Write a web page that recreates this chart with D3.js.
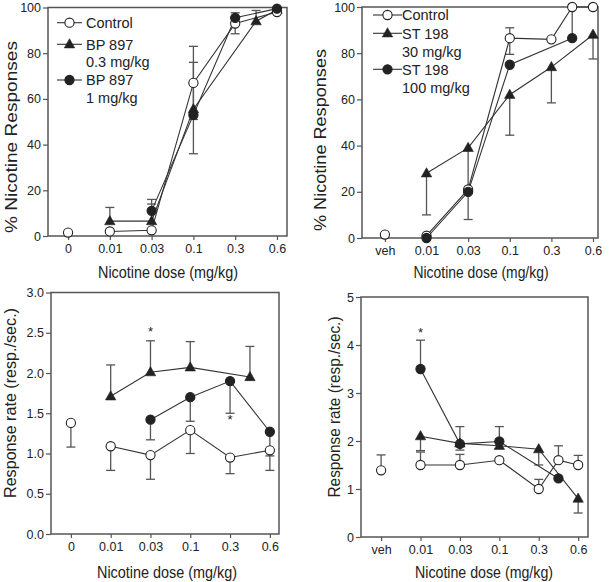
<!DOCTYPE html>
<html><head><meta charset="utf-8">
<script src="https://cdn.jsdelivr.net/npm/d3@7"></script>
<style>
body{margin:0;background:#fff}
svg{display:block}
text{font-family:"Liberation Sans",Arial,Helvetica,sans-serif;fill:#222}
</style>
</head><body>
<svg id="chart" width="610" height="582"></svg>
<script>
// ---------------- DATA ----------------
const doseLabelsA = ["0", "0.01", "0.03", "0.1", "0.3", "0.6"];
const doseLabelsB = ["veh", "0.01", "0.03", "0.1", "0.3", "0.6"];
const xTitle = "Nicotine dose (mg/kg)";
const yTitleTop = "% Nicotine Responses";
const yTitleBottom = "Response rate (resp./sec.)";
const ticksPct = [0, 20, 40, 60, 80, 100];
const ticksRateC = [0, 0.5, 1.0, 1.5, 2.0, 2.5, 3.0];
const ticksRateD = [0, 1, 2, 3, 4, 5];

// Panel A – BP 897, % nicotine responses (dose index; 4.5 = plotted between 0.3 and 0.6)
const legendA = ["Control", "BP 897", "BP 897"];
const legendSubA = [null, "0.3 mg/kg", "1 mg/kg"];
const ctrlA_x = [0, 1, 2, 3, 4, 5];
const ctrlA_y = [1.5, 2, 2.5, 67, 93, 98];
const ctrlA_lo = [null, null, null, 51, 88.5, null];
const ctrlA_hi = [null, null, null, 83, 97.7, null];
const bpLowA_x = [1, 2, 3, 4.5, 5];
const bpLowA_y = [6.5, 6.5, 55.5, 94, 99];
const bpLowA_lo = [null, null, 36, null, null];
const bpLowA_hi = [12.5, 14, 76, 98.7, null];
const bpHighA_x = [2, 3, 4, 5];
const bpHighA_y = [11, 53, 95.5, 99.5];
const bpHighA_lo = [null, null, null, null];
const bpHighA_hi = [16, null, null, null];

// Panel B – ST 198, % nicotine responses
const legendB = ["Control", "ST 198", "ST 198"];
const legendSubB = [null, "30 mg/kg", "100 mg/kg"];
const ctrlB_x = [0, 1, 2, 3, 4, 4.5, 5];
const ctrlB_y = [1.5, 1, 21, 86.5, 86, 100, 100];
const ctrlB_lo = [null, null, null, 79.5, null, null, null];
const ctrlB_hi = [null, null, null, 91, null, null, null];
const stLowB_x = [1, 2, 3, 4, 5];
const stLowB_y = [28, 39, 62, 74, 88];
const stLowB_lo = [10, 8, 44.5, 58.5, 77.5];
const stLowB_hi = [null, null, null, null, null];
const stHighB_x = [1, 2, 3, 4.5];
const stHighB_y = [0, 20, 75, 86.5];
const stHighB_lo = [null, null, null, null];
const stHighB_hi = [null, null, null, 100];

// Panel C – BP 897, response rate
const ctrlC_x = [0, 1, 2, 3, 4, 5];
const ctrlC_y = [1.38, 1.09, 0.98, 1.29, 0.95, 1.04];
const ctrlC_lo = [1.08, 0.79, 0.68, 1.0, 0.75, 0.79];
const ctrlC_hi = [null, null, null, null, null, null];
const bpLowC_x = [1, 2, 3, 4.5];
const bpLowC_y = [1.71, 2.01, 2.07, 1.95];
const bpLowC_lo = [null, null, null, null];
const bpLowC_hi = [2.1, 2.4, 2.39, 2.33];
const bpHighC_x = [2, 3, 4, 5];
const bpHighC_y = [1.42, 1.70, 1.90, 1.27];
const bpHighC_lo = [1.17, 1.40, 1.50, 0.97];
const bpHighC_hi = [null, null, null, null];
const starsC_x = [2, 4];
const starsC_y = [2.53, 1.44];

// Panel D – ST 198, response rate
const ctrlD_x = [0, 1, 2, 3, 4, 4.5, 5];
const ctrlD_y = [1.39, 1.5, 1.5, 1.6, 1.0, 1.6, 1.5];
const ctrlD_lo = [null, null, null, null, null, null, null];
const ctrlD_hi = [1.71, 1.77, 1.72, null, 1.2, 1.9, 1.7];
const stLowD_x = [1, 2, 3, 4, 5];
const stLowD_y = [2.1, 1.95, 1.9, 1.83, 0.8];
const stLowD_lo = [1.8, 1.81, null, 1.5, 0.5];
const stLowD_hi = [null, null, null, null, null];
const stHighD_x = [1, 2, 3, 4.5];
const stHighD_y = [3.5, 1.94, 1.99, 1.22];
const stHighD_lo = [null, null, null, null];
const stHighD_hi = [4.1, 2.3, 2.3, null];
const starsD_x = [1];
const starsD_y = [4.3];

// ---------------- DRAWING ----------------
const svg = d3.select("#chart");
const LINE = "#333", ERR = "#555", FRAME = "#555", INK = "#222";

function mk(x, y, lo, hi, marker, skipFirst) {
  return { pts: x.map((d, i) => ({ x: d, y: y[i], lo: lo[i], hi: hi[i] })), marker, skipFirst };
}

function drawMarker(g, type, cx, cy) {
  if (type === "tri") {
    g.append("path").attr("d", `M${cx},${cy - 5.6}L${cx + 5.2},${cy + 3.6}L${cx - 5.2},${cy + 3.6}Z`)
      .attr("fill", INK).attr("stroke", INK).attr("stroke-width", 0.6);
  } else {
    g.append("circle").attr("cx", cx).attr("cy", cy).attr("r", 4.6)
      .attr("fill", type === "open" ? "#fff" : INK).attr("stroke", INK).attr("stroke-width", 1.1);
  }
}

function panel(cfg) {
  const g = svg.append("g");
  const x = d3.scaleLinear().domain(cfg.xd).range(cfg.xr);
  const y = d3.scaleLinear().domain(cfg.yd).range([cfg.yb, cfg.yt]);

  // axes
  const ax = g.append("g").attr("transform", `translate(0,${cfg.yb})`)
    .call(d3.axisBottom(x).tickValues(d3.range(cfg.labels.length)).tickFormat(i => cfg.labels[i]).tickSize(4).tickPadding(4.5));
  const ay = g.append("g").attr("transform", `translate(${cfg.xr[0]},0)`)
    .call(d3.axisLeft(y).tickValues(cfg.yticks).tickFormat(cfg.fmt).tickSize(5).tickPadding(2));
  [ax, ay].forEach(a => {
    a.select(".domain").remove();
    a.selectAll("line").attr("stroke", FRAME).attr("stroke-width", 1.2);
    a.selectAll("text").attr("font-size", 12.5).attr("fill", "#333")
      .attr("font-family", '"Liberation Sans",Arial,sans-serif');
  });
  g.append("rect").attr("x", cfg.xr[0]).attr("y", cfg.yt)
    .attr("width", cfg.xr[1] - cfg.xr[0]).attr("height", cfg.yb - cfg.yt)
    .attr("fill", "none").attr("stroke", FRAME).attr("stroke-width", 1.5);

  // titles
  g.append("text").attr("transform", `translate(${cfg.xtx},${cfg.xty}) scale(1,1.1)`).attr("text-anchor", "middle")
    .attr("font-size", 14.5).attr("textLength", cfg.xtl).attr("lengthAdjust", "spacingAndGlyphs").text(xTitle);
  g.append("text").attr("transform", `translate(${cfg.ytx},${cfg.yty}) rotate(-90)`).attr("text-anchor", "middle")
    .attr("font-size", 16).attr("textLength", cfg.ytl).attr("lengthAdjust", "spacingAndGlyphs").text(cfg.ytitle);

  const line = d3.line().x(d => x(d.x)).y(d => y(d.y));
  const order = [1, 0, 2]; // triangles, control, filled circles
  // error bars
  cfg.series.forEach(s => {
    s.pts.forEach(p => {
      [p.lo, p.hi].forEach(e => {
        if (e == null) return;
        g.append("line").attr("x1", x(p.x)).attr("x2", x(p.x)).attr("y1", y(p.y)).attr("y2", y(e))
          .attr("stroke", ERR).attr("stroke-width", 1.3);
        g.append("line").attr("x1", x(p.x) - 4.5).attr("x2", x(p.x) + 4.5).attr("y1", y(e)).attr("y2", y(e))
          .attr("stroke", ERR).attr("stroke-width", 1.3);
      });
    });
  });
  // lines
  cfg.series.forEach(s => {
    const pts = s.skipFirst ? s.pts.slice(1) : s.pts;
    g.append("path").attr("d", line(pts)).attr("fill", "none").attr("stroke", LINE).attr("stroke-width", 1.1);
  });
  // markers
  order.forEach(k => {
    const s = cfg.series[k];
    s.pts.forEach(p => drawMarker(g, s.marker, x(p.x), y(p.y)));
  });
  // asterisks
  if (cfg.starsX) cfg.starsX.forEach((sx, i) => {
    g.append("text").attr("x", x(sx)).attr("y", y(cfg.starsY[i]) + 6).attr("text-anchor", "middle")
      .attr("font-size", 13).text("*");
  });
  // legend
  if (cfg.legend) {
    const L = cfg.legendPos;
    cfg.legend.forEach((t, i) => {
      const cy = L.rows[i];
      g.append("line").attr("x1", L.x1).attr("x2", L.x2).attr("y1", cy).attr("y2", cy)
        .attr("stroke", LINE).attr("stroke-width", 1.1);
      drawMarker(g, cfg.series[i].marker, (L.x1 + L.x2) / 2, cy);
      g.append("text").attr("x", L.tx).attr("y", cy + 5.2).attr("font-size", 14.5).text(t);
      if (cfg.legendSub[i]) g.append("text").attr("x", L.tx).attr("y", cy + 5.2 + L.sub).attr("font-size", 14.5).text(cfg.legendSub[i]);
    });
  }
}

panel({
  xr: [48, 287], xd: [-0.48, 5.24], yt: 7.5, yb: 236, yd: [0, 100],
  labels: doseLabelsA, yticks: ticksPct, fmt: d3.format("d"),
  xtx: 168, xty: 278, xtl: 140, ytx: 17, yty: 137, ytl: 192, ytitle: yTitleTop,
  series: [mk(ctrlA_x, ctrlA_y, ctrlA_lo, ctrlA_hi, "open", true),
           mk(bpLowA_x, bpLowA_y, bpLowA_lo, bpLowA_hi, "tri", false),
           mk(bpHighA_x, bpHighA_y, bpHighA_lo, bpHighA_hi, "fill", false)],
  legend: legendA, legendSub: legendSubA,
  legendPos: { x1: 57, x2: 82, tx: 86, rows: [22.7, 44.3, 80], sub: 17.6 }
});
panel({
  xr: [362, 598], xd: [-0.55, 5.12], yt: 7, yb: 238, yd: [0, 100],
  labels: doseLabelsB, yticks: ticksPct, fmt: d3.format("d"),
  xtx: 481, xty: 278, xtl: 135, ytx: 326, yty: 140, ytl: 182, ytitle: yTitleTop,
  series: [mk(ctrlB_x, ctrlB_y, ctrlB_lo, ctrlB_hi, "open", true),
           mk(stLowB_x, stLowB_y, stLowB_lo, stLowB_hi, "tri", false),
           mk(stHighB_x, stHighB_y, stHighB_lo, stHighB_hi, "fill", false)],
  legend: legendB, legendSub: legendSubB,
  legendPos: { x1: 373, x2: 402, tx: 402, rows: [15, 33.3, 69.3], sub: 18 }
});
panel({
  xr: [51, 279], xd: [-0.5, 5.23], yt: 292.5, yb: 534, yd: [0, 3],
  labels: doseLabelsA, yticks: ticksRateC, fmt: d3.format(".1f"),
  xtx: 167, xty: 578, xtl: 140, ytx: 16, yty: 403, ytl: 190, ytitle: yTitleBottom,
  series: [mk(ctrlC_x, ctrlC_y, ctrlC_lo, ctrlC_hi, "open", true),
           mk(bpLowC_x, bpLowC_y, bpLowC_lo, bpLowC_hi, "tri", false),
           mk(bpHighC_x, bpHighC_y, bpHighC_lo, bpHighC_hi, "fill", false)],
  starsX: starsC_x, starsY: starsC_y
});
panel({
  xr: [361, 588], xd: [-0.51, 5.25], yt: 297, yb: 537, yd: [0, 5],
  labels: doseLabelsB, yticks: ticksRateD, fmt: d3.format("d"),
  xtx: 484, xty: 578, xtl: 138, ytx: 340, yty: 407, ytl: 181, ytitle: yTitleBottom,
  series: [mk(ctrlD_x, ctrlD_y, ctrlD_lo, ctrlD_hi, "open", true),
           mk(stLowD_x, stLowD_y, stLowD_lo, stLowD_hi, "tri", false),
           mk(stHighD_x, stHighD_y, stHighD_lo, stHighD_hi, "fill", false)],
  starsX: starsD_x, starsY: starsD_y
});
</script>
</body></html>
